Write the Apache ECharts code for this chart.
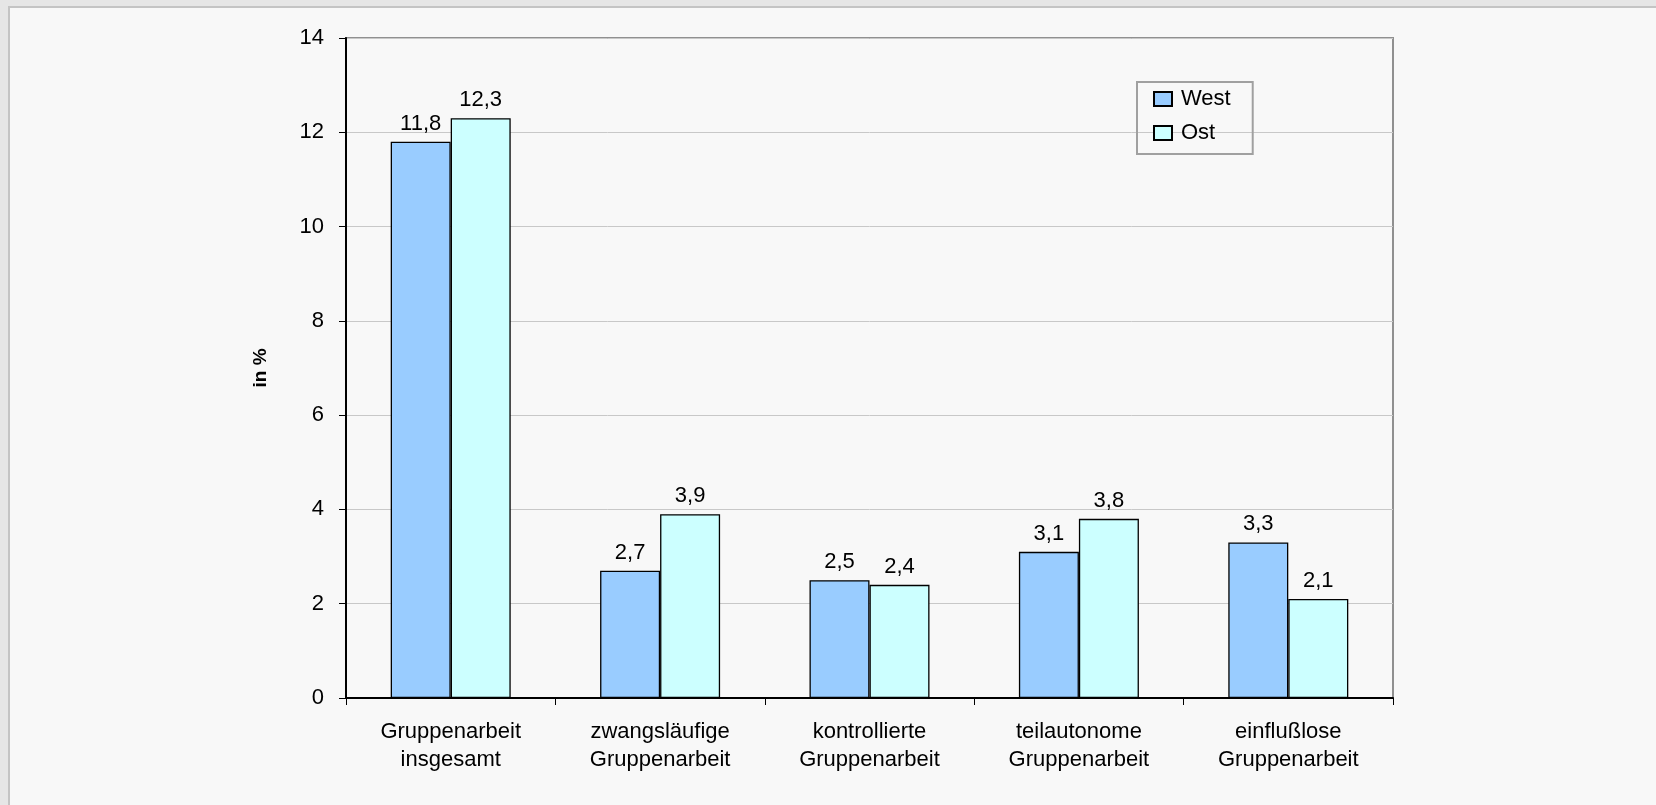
<!DOCTYPE html>
<html>
<head>
<meta charset="utf-8">
<script src="https://cdn.jsdelivr.net/npm/echarts@6/dist/echarts.min.js"></script>
<style>
  html, body { margin: 0; padding: 0; background: #e6e6e6; }
  .panel {
    position: absolute; left: 8px; top: 6px; right: 0; bottom: 0;
    background: #f8f8f8;
    border-left: 2px solid #c4c4c4;
    border-top: 2px solid #c4c4c4;
  }
  #chart { position: absolute; left: 0; top: 0; width: 1656px; height: 805px; }
</style>
</head>
<body>
<div class="panel"></div>
<div id="chart"></div>
<script>
// Kategorien und Werte (in %)
const categories = [
  'Gruppenarbeit\ninsgesamt',
  'zwangsläufige\nGruppenarbeit',
  'kontrollierte\nGruppenarbeit',
  'teilautonome\nGruppenarbeit',
  'einflußlose\nGruppenarbeit'
]
const west = [11.8, 2.7, 2.5, 3.1, 3.3]
const ost = [12.3, 3.9, 2.4, 3.8, 2.1]
const yTicks = [0, 2, 4, 6, 8, 10, 12, 14]

const font = 'Liberation Sans, Arial, sans-serif'
const fmt = p => String(p.value).replace('.', ',')

const chart = echarts.init(document.getElementById('chart'))
chart.setOption({
  backgroundColor: 'transparent',
  textStyle: { fontFamily: font },
  animation: false,
  legend: {
    orient: 'vertical',
    left: 1137,
    top: 82,
    icon: 'rect',
    itemWidth: 18,
    itemHeight: 14,
    itemGap: 12,
    padding: [6, 22, 10, 16],
    borderColor: '#a0a0a0',
    borderWidth: 2,
    textStyle: { fontSize: 22, color: '#000', fontFamily: font, padding: [0, 0, 0, 4] },
    data: ['West', 'Ost']
  },
  grid: {
    left: 346,
    top: 38,
    right: 263,
    bottom: 107,
    show: true,
    borderColor: '#909090',
    borderWidth: 2
  },
  xAxis: {
    type: 'category',
    data: categories,
    axisLine: { lineStyle: { color: '#000', width: 2 } },
    axisTick: { show: true, length: 7, lineStyle: { color: '#000' } },
    axisLabel: {
      fontSize: 22,
      lineHeight: 28,
      color: '#000',
      margin: 20,
      interval: 0
    }
  },
  yAxis: {
    type: 'value',
    min: yTicks[0],
    max: yTicks[yTicks.length - 1],
    interval: 2,
    name: 'in %',
    nameLocation: 'middle',
    nameGap: 76,
    nameTextStyle: { fontSize: 19, fontWeight: 'bold', color: '#000' },
    axisLine: { show: true, lineStyle: { color: '#000', width: 2 } },
    axisTick: { show: true, length: 7, lineStyle: { color: '#000' } },
    axisLabel: { fontSize: 22, color: '#000', margin: 22 },
    splitLine: { lineStyle: { color: '#c8c8c8', width: 1 } }
  },
  series: [
    {
      name: 'West',
      type: 'bar',
      data: west,
      barWidth: 60,
      barGap: '0%',
      itemStyle: { color: '#99ccff', borderColor: '#000', borderWidth: 1.3 },
      label: { show: true, position: 'top', distance: 7, fontSize: 22, color: '#000', formatter: fmt }
    },
    {
      name: 'Ost',
      type: 'bar',
      data: ost,
      barWidth: 60,
      barGap: '0%',
      itemStyle: { color: '#ccffff', borderColor: '#000', borderWidth: 1.3 },
      label: { show: true, position: 'top', distance: 7, fontSize: 22, color: '#000', formatter: fmt }
    }
  ]
})
</script>
</body>
</html>
